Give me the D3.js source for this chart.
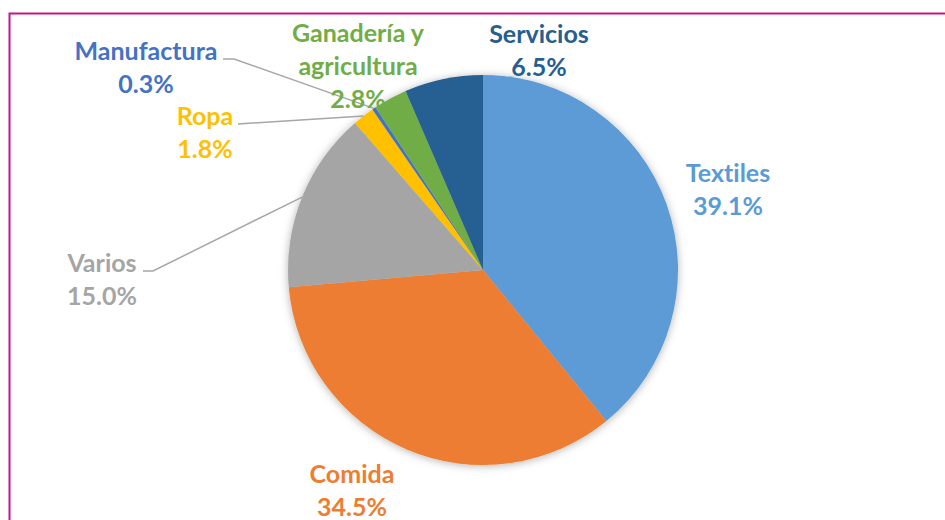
<!DOCTYPE html>
<html>
<head>
<meta charset="utf-8">
<script src="https://cdn.jsdelivr.net/npm/d3@7.9.0/dist/d3.min.js"></script>
<style>
  body { margin: 0; background: #fff; }
  svg { display: block; }
  .lbl { font-family: Lato, "Open Sans", sans-serif; font-weight: 700; font-size: 25px; font-variant-ligatures: none; }
</style>
</head>
<body>
<svg id="chart" width="945" height="520"></svg>
<script>
// data, clockwise from 12 o'clock
const categories = ["Textiles", "Comida", "Varios", "Ropa", "Manufactura", "Ganadería y agricultura", "Servicios"];
const values = [39.1, 34.5, 15.0, 1.8, 0.3, 2.8, 6.5];
const colors = ["#5B9BD5", "#ED7D31", "#A5A5A5", "#FFC000", "#4472C4", "#70AD47", "#255E91"];

// label layout (center x, first baseline y, lines of the name)
const labelLayout = {
  "Textiles": { x: 728, y: 182, lines: ["Textiles"] },
  "Comida": { x: 352, y: 483, lines: ["Comida"] },
  "Varios": { x: 102, y: 272, lines: ["Varios"], leader: [143, 153] },
  "Ropa": { x: 205, y: 125, lines: ["Ropa"], leader: [238, 238] },
  "Manufactura": { x: 146, y: 60, lines: ["Manufactura"], leader: [223, 234] },
  "Ganadería y agricultura": { x: 358, y: 42, lines: ["Ganadería y", "agricultura"] },
  "Servicios": { x: 539, y: 43, lines: ["Servicios"] }
};

const svg = d3.select("#chart");
const cx = 483, cy = 270, r = 195;
const lineH = 33;

// frame
svg.append("path")
  .attr("d", "M9.5,530 V13.5 H960")
  .attr("fill", "none")
  .attr("stroke", "#C2148A")
  .attr("stroke-width", 2);

const defs = svg.append("defs");
const f = defs.append("filter").attr("id", "shadow")
  .attr("x", "-20%").attr("y", "-20%").attr("width", "140%").attr("height", "140%");
f.append("feDropShadow")
  .attr("dx", 0).attr("dy", 1).attr("stdDeviation", 4)
  .attr("flood-color", "#000").attr("flood-opacity", 0.3);

const data = categories.map((c, i) => ({ name: c, value: values[i], color: colors[i] }));
const pie = d3.pie().value(d => d.value).sort(null);
const arcs = pie(data);
const arc = d3.arc().innerRadius(0).outerRadius(r);
const edge = d3.arc().innerRadius(r).outerRadius(r);

const g = svg.append("g").attr("transform", `translate(${cx},${cy})`);
g.append("g").attr("filter", "url(#shadow)")
  .selectAll("path")
  .data(arcs)
  .join("path")
  .attr("d", arc)
  .attr("fill", d => d.data.color);

// leader lines
arcs.forEach(a => {
  const L = labelLayout[a.data.name];
  if (!L.leader) return;
  const [ex, ey] = edge.centroid(a);
  const ly = L.y - 1;
  svg.append("polyline")
    .attr("points", `${L.leader[0]},${ly} ${L.leader[1]},${ly} ${cx + ex},${cy + ey}`)
    .attr("fill", "none")
    .attr("stroke", "#A6A6A6")
    .attr("stroke-width", 1.5);
});

// labels
arcs.forEach(a => {
  const L = labelLayout[a.data.name];
  const t = svg.append("text")
    .attr("class", "lbl")
    .attr("text-anchor", "middle")
    .attr("fill", a.data.color);
  const lines = L.lines.concat([d3.format(".1f")(a.data.value) + "%"]);
  lines.forEach((s, k) => {
    t.append("tspan").attr("x", L.x).attr("y", L.y + k * lineH).text(s);
  });
});
</script>
</body>
</html>
